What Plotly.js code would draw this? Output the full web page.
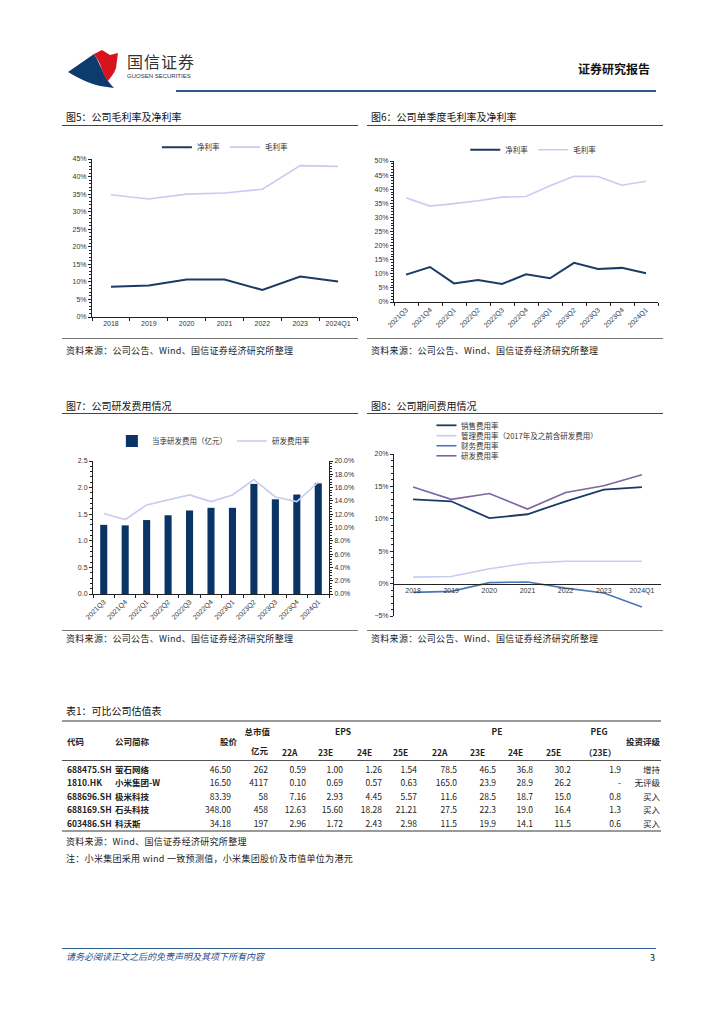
<!DOCTYPE html>
<html>
<head>
<meta charset="utf-8">
<script src="https://cdn.plot.ly/plotly-3.0.1.min.js"></script>
<style>
  html,body{margin:0;padding:0;background:#fff;}
  #page{position:relative;width:724px;height:1024px;background:#fff;overflow:hidden;
        font-family:"Noto Sans CJK SC","Noto Sans",sans-serif;color:#222;}
  .abs{position:absolute;white-space:nowrap;}
  .hline{position:absolute;height:0;}
  .ftitle{font-size:10px;color:#111;line-height:12px;}
  .src{font-size:9px;color:#222;line-height:11px;letter-spacing:0.3px;}
  .chart{position:absolute;}
  .cell{position:absolute;white-space:nowrap;font-size:8.5px;line-height:10px;}
  .hd{font-weight:bold;font-size:8.5px;}
</style>
</head>
<body>
<div id="page">
  <!-- header -->
  <svg class="abs" style="left:64px;top:48px" width="60" height="42" viewBox="0 0 60 42">
    <path d="M4,24 L30,6 C34,12 36,18 40,26 C43,32 46,36 50,40 L36,38 C26,36 14,30 4,24 Z" fill="#0E3B6E"/>
    <path d="M30,6 L38,2 L46,7 L54,5 L52,20 C50,26 46,30 44,33 C40,28 38,22 36,16 C34,12 32,9 30,6 Z" fill="#D7141E"/>
  </svg>
  <div class="abs" style="left:127px;top:51px;font-size:16px;line-height:20px;color:#333;letter-spacing:1px;">国信证券</div>
  <div class="abs" style="left:127px;top:72px;font-size:6px;line-height:8px;color:#333;font-family:'Liberation Sans',sans-serif;">GUOSEN SECURITIES</div>
  <div class="abs" style="left:578px;top:61px;font-size:12px;line-height:15px;font-weight:bold;color:#111;">证券研究报告</div>
  <div class="hline" style="left:176px;top:90px;width:480px;border-top:2px solid #2D5D8F;"></div>

  <!-- figure 5 -->
  <div class="abs ftitle" style="left:66px;top:111px;">图5：公司毛利率及净利率</div>
  <div class="hline" style="left:62px;top:125px;width:296px;border-top:1px solid #444;"></div>
  <div class="hline" style="left:62px;top:338px;width:296px;border-top:1px solid #777;"></div>
  <div class="abs src" style="left:66px;top:345px;">资料来源：公司公告、Wind、国信证券经济研究所整理</div>
  <div id="c1" class="chart" style="left:62px;top:128px;width:300px;height:210px;"></div>

  <!-- figure 6 -->
  <div class="abs ftitle" style="left:371px;top:111px;">图6：公司单季度毛利率及净利率</div>
  <div class="hline" style="left:367px;top:125px;width:296px;border-top:1px solid #444;"></div>
  <div class="hline" style="left:367px;top:338px;width:296px;border-top:1px solid #777;"></div>
  <div class="abs src" style="left:371px;top:345px;">资料来源：公司公告、Wind、国信证券经济研究所整理</div>
  <div id="c2" class="chart" style="left:365px;top:128px;width:300px;height:210px;"></div>

  <!-- figure 7 -->
  <div class="abs ftitle" style="left:66px;top:400px;">图7：公司研发费用情况</div>
  <div class="hline" style="left:62px;top:413px;width:296px;border-top:1px solid #444;"></div>
  <div class="hline" style="left:62px;top:630px;width:296px;border-top:1px solid #777;"></div>
  <div class="abs src" style="left:66px;top:633px;">资料来源：公司公告、Wind、国信证券经济研究所整理</div>
  <div id="c3" class="chart" style="left:62px;top:415px;width:300px;height:215px;"></div>

  <!-- figure 8 -->
  <div class="abs ftitle" style="left:371px;top:400px;">图8：公司期间费用情况</div>
  <div class="hline" style="left:367px;top:413px;width:296px;border-top:1px solid #444;"></div>
  <div class="hline" style="left:367px;top:630px;width:296px;border-top:1px solid #777;"></div>
  <div class="abs src" style="left:371px;top:633px;">资料来源：公司公告、Wind、国信证券经济研究所整理</div>
  <div id="c4" class="chart" style="left:365px;top:415px;width:300px;height:215px;"></div>

  <!-- table -->
  <div class="abs ftitle" style="left:66px;top:705px;">表1：可比公司估值表</div>
  <div class="hline" style="left:62px;top:720px;width:599px;border-top:2px solid #9a9a9a;"></div>
  <div class="hline" style="left:62px;top:760px;width:599px;border-top:1px solid #555;"></div>
  <div class="hline" style="left:62px;top:830px;width:599px;border-top:2px solid #9a9a9a;"></div>
  <div class="abs src" style="left:66px;top:836px;">资料来源：Wind、国信证券经济研究所整理</div>
  <div class="abs src" style="left:66px;top:853px;">注：小米集团采用 wind 一致预测值，小米集团股价及市值单位为港元</div>

  <!-- footer -->
  <div class="hline" style="left:62px;top:948px;width:594px;border-top:1px solid #2D5D8F;"></div>
  <div class="abs" style="left:66px;top:951px;font-size:9px;line-height:11px;color:#1F4E8C;font-style:italic;">请务必阅读正文之后的免责声明及其项下所有内容</div>
  <div class="abs" style="left:650px;top:952px;font-size:9px;line-height:11px;color:#111;">3</div>
</div>

<script>
// ---------------- data ----------------
const years = ['2018','2019','2020','2021','2022','2023','2024Q1'];
const netMarginYear = [8.6, 9.0, 10.7, 10.7, 7.7, 11.5, 10.1];
const grossMarginYear = [34.8, 33.6, 35.0, 35.3, 36.4, 43.1, 42.9];

const quarters = ['2021Q3','2021Q4','2022Q1','2022Q2','2022Q3','2022Q4','2023Q1','2023Q2','2023Q3','2023Q4','2024Q1'];
const netMarginQ = [9.7, 12.4, 6.6, 7.8, 6.4, 9.8, 8.4, 13.9, 11.7, 12.1, 10.2];
const grossMarginQ = [37.0, 34.0, 34.9, 35.9, 37.2, 37.4, 41.2, 44.6, 44.5, 41.4, 42.8];

const rdExpense = [1.30, 1.29, 1.39, 1.48, 1.57, 1.62, 1.62, 2.07, 1.78, 1.87, 2.08];
const rdRatioQ = [12.1, 11.2, 13.4, 14.2, 14.9, 13.9, 14.9, 17.2, 14.6, 13.9, 16.8];

const expYears = ['2018','2019','2020','2021','2022','2023','2024Q1'];
const salesRatio = [13.0, 12.7, 10.1, 10.7, 12.7, 14.5, 14.9];
const mgmtRatio = [1.0, 1.1, 2.3, 3.15, 3.45, 3.45, 3.45];
const finRatio = [-1.35, -1.2, 0.15, 0.25, -0.7, -1.45, -3.6];
const rdRatioYear = [14.9, 13.0, 13.9, 11.5, 14.05, 15.1, 16.8];

const codes = ['688475.SH','1810.HK','688696.SH','688169.SH','603486.SH'];
const names = ['萤石网络','小米集团-W','极米科技','石头科技','科沃斯'];
const prices = ['46.50','16.50','83.39','348.00','34.18'];
const mktCaps = ['262','4117','58','458','197'];
const eps22A = ['0.59','0.10','7.16','12.63','2.96'];
const eps23E = ['1.00','0.69','2.93','15.60','1.72'];
const eps24E = ['1.26','0.57','4.45','18.28','2.43'];
const eps25E = ['1.54','0.63','5.57','21.21','2.98'];
const pe22A = ['78.5','165.0','11.6','27.5','11.5'];
const pe23E = ['46.5','23.9','28.5','22.3','19.9'];
const pe24E = ['36.8','28.9','18.7','19.0','14.1'];
const pe25E = ['30.2','26.2','15.0','16.4','11.5'];
const peg23E = ['1.9','-','0.8','1.3','0.6'];
const ratings = ['增持','无评级','买入','买入','买入'];

// ---------------- styles ----------------
const NAVY = '#1B3A66';
const LAV = '#CACAF2';
const FIN = '#4A77BA';
const RDP = '#7D65A0';
const BAR = '#0A3366';
const FONT = '"Noto Sans CJK SC", "Noto Sans", sans-serif';
const tickFont = {family: '"Liberation Sans", "Noto Sans", sans-serif', size: 7, color: '#333'};
const legFont = {family: FONT, size: 7.5, color: '#333'};
const cfg = {displayModeBar: false, staticPlot: true};

function yAx(extra) {
  return Object.assign({
    showline: true, linecolor: '#222', linewidth: 1, ticks: 'outside', ticklen: 3, tickcolor: '#222',
    showgrid: false, zeroline: false, tickfont: tickFont, fixedrange: true,
    minor: {ticks: 'outside', ticklen: 2, tickcolor: '#222'}
  }, extra);
}
function xAx(extra) {
  return Object.assign({
    type: 'category', showline: true, linecolor: '#222', linewidth: 1, ticks: 'outside', ticklen: 3,
    tickcolor: '#222', tickson: 'boundaries', showgrid: false, zeroline: false, tickfont: tickFont, fixedrange: true
  }, extra);
}
function baseLayout(margin, legend) {
  return {
    width: 300, height: 210, margin: margin, paper_bgcolor: 'rgba(0,0,0,0)', plot_bgcolor: 'rgba(0,0,0,0)',
    font: {family: FONT, size: 8, color: '#333'}, showlegend: true,
    legend: Object.assign({orientation: 'h', font: legFont, bgcolor: 'rgba(0,0,0,0)', itemwidth: 30, tracegroupgap: 0}, legend)
  };
}

// ---------------- chart 1 ----------------
(function () {
  const traces = [
    {type: 'scatter', mode: 'lines', name: '净利率', x: years, y: netMarginYear, line: {color: NAVY, width: 2}},
    {type: 'scatter', mode: 'lines', name: '毛利率', x: years, y: grossMarginYear, line: {color: LAV, width: 1.6}}
  ];
  const layout = baseLayout({l: 30, r: 5, t: 23, b: 21.3}, {x: 0.245, y: 1.075, xanchor: 'left', yanchor: 'middle'});
  layout.xaxis = xAx({range: [-0.5, years.length - 0.5]});
  layout.yaxis = yAx({range: [0, 45], dtick: 5, ticksuffix: '%', minor: {ticks: 'outside', ticklen: 2, dtick: 1, tickcolor: '#222'}});
  Plotly.newPlot('c1', traces, layout, cfg);
})();

// ---------------- chart 2 ----------------
(function () {
  const traces = [
    {type: 'scatter', mode: 'lines', name: '净利率', x: quarters, y: netMarginQ, line: {color: NAVY, width: 2}},
    {type: 'scatter', mode: 'lines', name: '毛利率', x: quarters, y: grossMarginQ, line: {color: LAV, width: 1.6}}
  ];
  const layout = baseLayout({l: 29.3, r: 7.3, t: 23, b: 35.7}, {x: 0.27, y: 1.08, xanchor: 'left', yanchor: 'middle'});
  layout.xaxis = xAx({tickangle: -45, range: [-0.5, quarters.length - 0.5]});
  layout.yaxis = yAx({range: [0, 50], dtick: 5, ticksuffix: '%', minor: {ticks: 'outside', ticklen: 2, dtick: 1, tickcolor: '#222'}});
  Plotly.newPlot('c2', traces, layout, cfg);
})();

// ---------------- chart 3 ----------------
(function () {
  const traces = [
    {type: 'bar', name: '当季研发费用（亿元）', x: quarters, y: rdExpense, marker: {color: BAR}},
    {type: 'scatter', mode: 'lines', name: '研发费用率', x: quarters, y: rdRatioQ, yaxis: 'y2', line: {color: LAV, width: 1.6}}
  ];
  const layout = baseLayout({l: 31.3, r: 32.7, t: 32.3, b: 36.3}, {x: 0.08, y: 1.15, xanchor: 'left', yanchor: 'middle'});
  layout.height = 215;
  layout.bargap = 0.67;
  layout.xaxis = xAx({tickangle: -45, range: [-0.5, quarters.length - 0.5]});
  layout.yaxis = yAx({range: [0, 2.5], dtick: 0.5, tickformat: '.1f', minor: {ticks: 'outside', ticklen: 2, dtick: 0.1, tickcolor: '#222'}});
  layout.yaxis2 = yAx({overlaying: 'y', side: 'right', range: [0, 20], dtick: 2, tickformat: '.1f', ticksuffix: '%',
                      minor: {ticks: 'outside', ticklen: 2, dtick: 0.4, tickcolor: '#222'}});
  Plotly.newPlot('c3', traces, layout, cfg);
})();

// ---------------- chart 4 ----------------
(function () {
  const names4 = ['销售费用率', '管理费用率（2017年及之前含研发费用）', '财务费用率', '研发费用率'];
  const series4 = [salesRatio, mgmtRatio, finRatio, rdRatioYear];
  const colors4 = [NAVY, LAV, FIN, RDP];
  const widths4 = [1.8, 1.6, 1.6, 1.6];
  const traces = series4.map((s, i) => ({type: 'scatter', mode: 'lines', name: names4[i], x: expYears, y: s,
    line: {color: colors4[i], width: widths4[i]}, showlegend: false}));
  const layout = baseLayout({l: 29.3, r: 4.2, t: 39.3, b: 14.3}, {});
  layout.showlegend = false;
  layout.height = 215;
  layout.xaxis = xAx({anchor: 'free', position: 0.2, ticks: '', range: [-0.5, expYears.length - 0.5]});
  layout.yaxis = yAx({range: [-5, 20], dtick: 5, ticksuffix: '%', minor: {ticks: 'outside', ticklen: 2, dtick: 1, tickcolor: '#222'}});
  // compact legend (key lines + labels)
  const legY = [1.177, 1.113, 1.051, 0.989];
  layout.shapes = legY.map((yy, i) => ({type: 'line', xref: 'paper', yref: 'paper', x0: 0.159, x1: 0.234, y0: yy, y1: yy,
    line: {color: colors4[i], width: widths4[i]}}));
  layout.annotations = legY.map((yy, i) => ({xref: 'paper', yref: 'paper', x: 0.242, y: yy, xanchor: 'left', yanchor: 'middle',
    text: names4[i], showarrow: false, font: legFont}));
  Plotly.newPlot('c4', traces, layout, cfg);
})();

// ---------------- table ----------------
(function () {
  const rowsY = [768.5, 782, 795.5, 809, 822.5];
  const cols = [
    {vals: codes, left: 67, bold: true},
    {vals: names, left: 115, bold: true},
    {vals: prices, right: 231},
    {vals: mktCaps, right: 268},
    {vals: eps22A, right: 306},
    {vals: eps23E, right: 343},
    {vals: eps24E, right: 382},
    {vals: eps25E, right: 417},
    {vals: pe22A, right: 457},
    {vals: pe23E, right: 496},
    {vals: pe24E, right: 533},
    {vals: pe25E, right: 571},
    {vals: peg23E, right: 621},
    {vals: ratings, right: 660}
  ];
  function put(text, y, opt) {
    const d = document.createElement('div');
    d.className = 'cell' + (opt.bold ? ' hd' : '');
    d.textContent = text;
    d.style.top = (y - 5) + 'px';
    if (opt.left !== undefined) { d.style.left = opt.left + 'px'; }
    else if (opt.right !== undefined) { d.style.left = (opt.right - 80) + 'px'; d.style.width = '80px'; d.style.textAlign = 'right'; }
    else { d.style.left = (opt.center - 40) + 'px'; d.style.width = '80px'; d.style.textAlign = 'center'; }
    document.getElementById('page').appendChild(d);
  }
  cols.forEach(c => c.vals.forEach((v, i) => put(v, rowsY[i], {left: c.left, right: c.right, bold: c.bold})));
  put('代码', 741, {left: 67, bold: true});
  put('公司简称', 741, {left: 115, bold: true});
  put('股价', 741, {right: 237, bold: true});
  put('总市值', 731, {right: 270, bold: true});
  put('亿元', 750, {right: 268, bold: true});
  put('EPS', 731, {center: 343, bold: true});
  put('PE', 731, {center: 497, bold: true});
  put('PEG', 731, {center: 599, bold: true});
  put('投资评级', 741, {right: 660, bold: true});
  const sub = [['22A', 282], ['23E', 318], ['24E', 357], ['25E', 393], ['22A', 432], ['23E', 470], ['24E', 508], ['25E', 546]];
  sub.forEach(s => put(s[0], 752, {left: s[1], bold: true}));
  put('（23E）', 752, {left: 584, bold: true});
})();
</script>
</body>
</html>
